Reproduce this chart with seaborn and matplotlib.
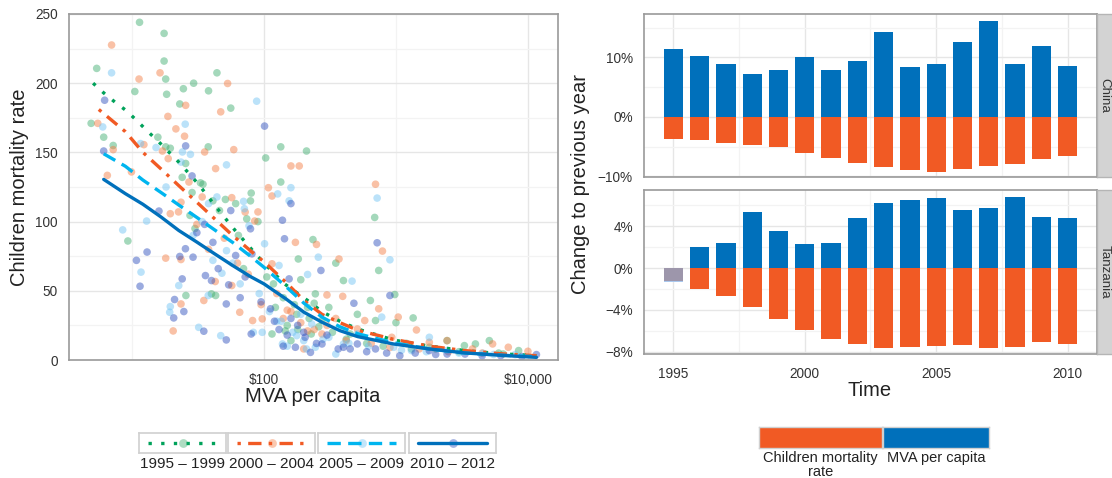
import numpy as np
import pandas as pd
import seaborn as sns
import matplotlib
matplotlib.use("Agg")
import matplotlib.pyplot as plt
from matplotlib.ticker import FixedLocator, NullFormatter

# ---- left panel: scatter of MVA per capita vs children mortality rate ----
periods = ['1995 – 1999', '2000 – 2004', '2005 – 2009', '2010 – 2012']

mva_95 = [5.4, 4.9, 6.1, 7.2, 11.4, 17.5, 17.5, 18, 18.3, 10.5, 15.7, 18, 19.5, 23, 24.5,
          29.3, 38, 44, 56, 37.8, 9.3, 25.5, 24, 28.5, 27.5, 34.5, 41, 51, 61, 80,
          79, 74, 43, 40, 25.6, 134, 210, 103, 134, 235, 182, 350, 690, 740, 640,
          400, 980, 1350, 1000, 700, 510, 310, 245, 214, 177, 145, 2440, 5100, 4000, 3300,
          8500, 1790, 1310, 122, 115, 275, 450, 6500, 228, 160,
          150, 180, 220, 260, 330, 420, 600, 800, 1200, 2000, 3000, 6000, 170, 140,
          30, 33, 46, 64, 70, 90, 105, 118, 190, 240]
rate_95 = [210.7, 171, 161, 155, 244, 236, 216, 203, 192, 194, 161, 154, 153, 185, 196,
           200, 194.5, 207.5, 182, 154, 86, 142, 132, 121, 104.5, 127, 115, 116, 113, 120.6,
           115, 102, 46.6, 47.8, 46.6, 154, 151, 146, 128.6, 87, 73, 70, 103, 64.7, 43,
           57.4, 47.3, 30.4, 27, 28.5, 33, 38, 47.8, 38, 33, 21, 14, 14, 11.6, 10.4,
           6.8, 9.2, 8, 38, 18.8, 28.5, 18.8, 4.3, 18.8, 14,
           25, 22, 30, 24, 20, 15, 12, 10, 12, 8, 6, 5, 40, 45,
           95, 128, 108, 90, 66, 100, 60, 55, 58, 41]

mva_00 = [7, 5.5, 11.3, 16.3, 18.7, 17, 18.8, 7.2, 6.5, 9.9, 12.3, 21.5, 25.5, 25, 23.5,
          22.5, 19.5, 18, 23.5, 20.5, 23.5, 35.5, 43, 47, 53, 59, 34, 27, 57, 72,
          85, 90, 108, 115, 115, 82, 97, 57, 42.7, 35, 65.5, 160, 185, 173, 250,
          370, 300, 395, 700, 790, 740, 1040, 1430, 2440, 5400, 10000, 3800, 510, 580, 214,
          275, 200, 1790, 7100, 930,
          140, 190, 240, 300, 420, 650, 900, 1500, 2500, 4500, 160, 350,
          31, 38, 50, 63, 76, 95, 125, 150]
rate_00 = [227.6, 171, 203, 207.5, 176, 151, 145.5, 152, 133.4, 135.9, 155.6, 167, 184, 161.7, 114,
           107, 105.7, 73.6, 72.6, 21, 40.5, 150.3, 138.3, 179.3, 199.8, 152, 117.8, 128.6, 117.3, 106.9,
           100.4, 107, 124.5, 118.5, 69.5, 28.5, 29.7, 53.8, 56.7, 43, 34.5, 140.2, 140.2, 85, 83.5,
           73, 47, 46, 127, 78.7, 37, 31, 21.7, 14, 11.6, 6.3, 8, 22.4, 28.5, 21,
           18.8, 8, 12.8, 9.2, 16.4,
           30, 27, 22, 25, 14, 12, 9, 8, 6, 5, 35, 30,
           98, 80, 88, 70, 62, 40, 48, 36]

mva_05 = [7, 6, 11.6, 15.2, 18.1, 25.3, 24.1, 27.7, 23.5, 52, 88, 44, 38, 70, 71,
          77, 8.5, 12.9, 11.7, 22.6, 19.5, 19.3, 37.8, 32, 47, 48, 52, 127, 160, 155,
          130, 101, 258, 214, 465, 720, 900, 780, 510, 310, 400, 97, 83, 200, 245,
          1790, 2440, 4560, 1310, 960, 8000, 177, 138, 350,
          135, 165, 190, 230, 280, 440, 620, 1100, 1700, 3000, 5500, 150, 210,
          29, 34, 41, 58, 66, 92, 110, 125]
rate_05 = [207.5, 168.4, 156.4, 153.5, 125, 170.4, 150.3, 148.6, 143, 141, 187, 117.8, 113, 114.6, 109.3,
           97, 94, 100.4, 63.5, 53.8, 38.6, 34.5, 46.6, 23.6, 17.6, 62.7, 79, 120, 124.5, 115,
           68.3, 84, 74.3, 61.8, 57, 117, 72.4, 31, 18.8, 16.4, 11.6, 20, 20, 14, 9.2,
           16.4, 6.8, 4.8, 6.8, 9.2, 3.9, 17.6, 11.6, 4.3,
           28, 20, 33, 26, 15, 12, 10, 7, 6, 5, 4, 10, 8,
           90, 100, 72, 70, 55, 48, 35, 28]

mva_10 = [6.2, 6.1, 25.5, 28.5, 16, 10.8, 13, 11.5, 21, 20.7, 24.7, 24, 23, 25.4, 29,
          35.5, 41, 36, 40, 51.8, 51.8, 54, 61, 56, 79, 81, 80, 35, 101, 138,
          160, 143, 155, 112, 270, 480, 720, 900, 225, 173, 365, 510, 1070, 1790, 3336,
          6223, 11600, 275, 400, 205, 700, 2440,
          130, 150, 180, 200, 250, 300, 450, 600, 850, 1400, 2000, 4500, 9000, 160, 140,
          31, 45, 66, 72, 95, 120]
rate_10 = [187.7, 151, 154.7, 133, 107.6, 72, 78, 53.3, 43.7, 30.4, 35, 58.6, 74.8, 80.4, 74.3,
           98, 85, 61, 57.4, 40.5, 14.5, 54.3, 75.5, 108, 94.8, 76.7, 18.8, 20.8, 169, 101,
           113, 87.6, 58.6, 37, 64.7, 41, 84.7, 46.6, 5.5, 9.2, 8, 11.6, 3.1, 6.8, 4.3,
           3.1, 3.9, 11.6, 9.2, 16.4, 8, 4.3,
           22, 18, 25, 20, 12, 18, 8, 6, 5, 5, 4, 3, 2.5, 30, 10,
           92, 66, 45, 60, 42, 28]

# fitted curves per period
curve_x_95 = [5.07, 6.1, 7.5, 9.1, 11, 13.2, 15.8, 22.6, 31.9, 43.4, 60, 84, 100, 143, 214,
              275, 376, 513, 955, 1787, 3336, 6223, 11600]
curve_y_95 = [200, 193, 186, 180, 172.5, 165, 158, 143, 127, 110.5, 94, 78, 70, 55, 43,
              35, 28, 22.4, 14.5, 10, 6.8, 4.5, 3.1]
curve_x_00 = [5.6, 8.9, 12.1, 16.6, 22.6, 31, 42.3, 57.8, 78.9, 100, 147, 201, 275, 376, 513,
              955, 1787, 3336, 6223, 11600]
curve_y_00 = [181, 165, 150, 138, 126, 114, 102, 90, 79, 71, 56, 43, 33, 27, 21.5,
              15, 10, 6.8, 4.5, 3.1]
curve_x_05 = [6.1, 8.9, 12.1, 16.6, 22.6, 31, 42.3, 57.8, 78.9, 100, 147, 201, 275, 376, 513,
              955, 1787, 3336, 6223, 11600]
curve_y_05 = [149, 140, 130, 121, 112, 103, 94, 85, 75, 67, 53, 41, 31, 24, 19,
              12.5, 8, 5, 3.5, 2.4]
curve_x_10 = [6.1, 8.9, 12.1, 16.6, 22.6, 31, 42.3, 57.8, 78.9, 100, 147, 201, 275, 376, 513,
              955, 1787, 3336, 6223, 11600]
curve_y_10 = [130.5, 120.2, 112.5, 103.3, 93.6, 85.2, 76.7, 68.3, 60.3, 55, 44.1, 34.5, 27.3, 21.2, 16.9,
              11.6, 8, 5.1, 3.4, 1.9]

# ---- right panel: change to previous year ----
years = [1995, 1996, 1997, 1998, 1999, 2000, 2001, 2002, 2003, 2004, 2005, 2006, 2007, 2008, 2009, 2010]
china_mva = [11.4, 10.2, 8.9, 7.2, 7.9, 10.1, 7.9, 9.4, 14.3, 8.4, 8.9, 12.6, 16.1, 8.9, 11.9, 8.5]
china_mort = [-3.7, -3.9, -4.4, -4.8, -5.1, -6.1, -6.9, -7.8, -8.4, -9.0, -9.2, -8.8, -8.3, -8.0, -7.1, -6.5]
tz_mva = [-1.3, 1.98, 2.37, 5.34, 3.52, 2.27, 2.37, 4.77, 6.21, 6.5, 6.69, 5.54, 5.73, 6.78, 4.86, 4.77]
tz_mort = [-1.2, -2.05, -2.72, -3.68, -4.83, -5.89, -6.75, -7.23, -7.62, -7.52, -7.42, -7.33, -7.62, -7.52, -7.04, -7.23]

line_colors = ['#00A25A', '#F15A24', '#00B5EF', '#0070BB']
point_colors = ['#3EAD6F', '#F47C42', '#6FC3F4', '#2C4DBC']
line_dashes = [(1, 2.8), (1, 2.2, 4, 2.2), (4, 2.2), '']
bar_orange = '#F15A24'
bar_blue = '#0070BB'

pts = pd.concat([
    pd.DataFrame({'mva': mva_95, 'rate': rate_95, 'period': periods[0]}),
    pd.DataFrame({'mva': mva_00, 'rate': rate_00, 'period': periods[1]}),
    pd.DataFrame({'mva': mva_05, 'rate': rate_05, 'period': periods[2]}),
    pd.DataFrame({'mva': mva_10, 'rate': rate_10, 'period': periods[3]}),
], ignore_index=True)
curves = pd.concat([
    pd.DataFrame({'mva': curve_x_95, 'rate': curve_y_95, 'period': periods[0]}),
    pd.DataFrame({'mva': curve_x_00, 'rate': curve_y_00, 'period': periods[1]}),
    pd.DataFrame({'mva': curve_x_05, 'rate': curve_y_05, 'period': periods[2]}),
    pd.DataFrame({'mva': curve_x_10, 'rate': curve_y_10, 'period': periods[3]}),
], ignore_index=True)

sns.set_style('white')
plt.rcParams['font.family'] = ['Liberation Sans', 'DejaVu Sans']

W, H = 1112, 478
fig = plt.figure(figsize=(W / 100, H / 100), dpi=100)


def px_axes(x0, y0, x1, y1):
    return fig.add_axes([x0 / W, 1 - y1 / H, (x1 - x0) / W, (y1 - y0) / H])


def style_panel(ax):
    for sp in ax.spines.values():
        sp.set_color('#9A9A9A')
        sp.set_linewidth(1.2)
    ax.tick_params(which='major', direction='out', length=5, width=1.5, color='#222222',
                   labelsize=9.8, labelcolor='#333333', pad=3)
    ax.tick_params(which='minor', length=0)
    ax.grid(which='major', color='#E6E6E6', lw=1.0)
    ax.grid(which='minor', color='#F3F3F3', lw=0.9)
    ax.set_axisbelow(True)
    ax.set_xlabel('')
    ax.set_ylabel('')


# left scatter
ax = px_axes(69, 14, 558, 360)
sns.scatterplot(data=pts, x='mva', y='rate', hue='period', palette=dict(zip(periods, point_colors)),
                alpha=0.47, s=30, linewidth=0, legend=False, ax=ax)
sns.lineplot(data=curves, x='mva', y='rate', hue='period', style='period',
             palette=dict(zip(periods, line_colors)), dashes=dict(zip(periods, line_dashes)),
             lw=2.4, legend=False, ax=ax)
ax.set_xscale('log')
ax.set_xlim(3.33, 16900)
ax.set_ylim(0, 250)
ax.xaxis.set_major_locator(FixedLocator([100, 10000]))
ax.xaxis.set_minor_locator(FixedLocator([10, 1000]))
ax.xaxis.set_minor_formatter(NullFormatter())
ax.set_xticklabels([r'\$100', r'\$10,000'])
ax.yaxis.set_major_locator(FixedLocator([0, 50, 100, 150, 200, 250]))
ax.yaxis.set_minor_locator(FixedLocator([25, 75, 125, 175, 225]))
style_panel(ax)
ax.tick_params(axis='x', pad=4.5)
fig.text(20 / W, 1 - 187 / H, 'Children mortality rate', rotation=90, ha='center', va='center',
         fontsize=14.5, color='#222222')
fig.text(313 / W, 1 - 397 / H, 'MVA per capita', ha='center', va='center', fontsize=14.5, color='#222222')

# right facets
panels = [
    ('China', china_mva, china_mort, 14, 177, (-10.11, 17.3), [-10, 0, 10], [-5, 5, 15]),
    ('Tanzania', tz_mva, tz_mort, 190, 354, (-8.22, 7.46), [-8, -4, 0, 4], [-6, -2, 2, 6]),
]
for name, mva, mort, y0, y1, ylim, yt, ymt in panels:
    bx = px_axes(644, y0, 1097, y1)
    sns.barplot(x=years, y=mva, native_scale=True, width=0.73, color=bar_blue, saturation=1,
                errorbar=None, linewidth=0, ax=bx)
    n_mva = len(bx.patches)
    for p in bx.patches:
        if p.get_height() < 0:
            p.set_facecolor('#A9C8EE')
    sns.barplot(x=years, y=mort, native_scale=True, width=0.73, color=bar_orange, saturation=1,
                errorbar=None, linewidth=0, ax=bx)
    if name == 'Tanzania':
        bx.patches[n_mva].set_facecolor('#9D96AB')
    bx.set_xlim(1993.88, 2011.12)
    bx.set_ylim(*ylim)
    bx.xaxis.set_major_locator(FixedLocator([1995, 2000, 2005, 2010]))
    bx.xaxis.set_minor_locator(FixedLocator([1997.5, 2002.5, 2007.5]))
    bx.yaxis.set_major_locator(FixedLocator(yt))
    bx.yaxis.set_minor_locator(FixedLocator(ymt))
    bx.set_yticklabels([('\u2212%d%%' % -v) if v < 0 else '%d%%' % v for v in yt])
    bx.set_xticklabels(['1995', '2000', '2005', '2010'])
    style_panel(bx)
    if name == 'China':
        bx.tick_params(axis='x', which='major', length=0, labelbottom=False)
    else:
        bx.tick_params(axis='x', pad=4)
    sx = px_axes(1097, y0, 1126, y1)
    sx.set_facecolor('#D3D3D3')
    sx.set_xticks([])
    sx.set_yticks([])
    for sp in sx.spines.values():
        sp.set_color('#B5B5B5')
        sp.set_linewidth(1.0)
    fig.text(1104.5 / W, 1 - (y0 + y1) / 2 / H, name, rotation=270, ha='center', va='center',
             fontsize=9.6, color='#333333')

fig.text(580 / W, 1 - 184 / H, 'Change to previous year', rotation=90, ha='center', va='center',
         fontsize=14.5, color='#222222')
fig.text(870 / W, 1 - 391 / H, 'Time', ha='center', va='center', fontsize=14.5, color='#222222')

# legend for the left panel
box_x = [139, 228, 318, 409]
for i, x0 in enumerate(box_x):
    lx = px_axes(x0, 433, x0 + 87, 453)
    lx.set_xlim(0, 1)
    lx.set_ylim(0, 1)
    lx.plot([0.1, 0.9], [0.5, 0.5], color=line_colors[i], lw=2.4,
            dashes=line_dashes[i] if line_dashes[i] else (None, None))
    lx.scatter([0.5], [0.5], s=40, color=point_colors[i], alpha=0.42, linewidth=0)
    lx.set_xticks([])
    lx.set_yticks([])
    for sp in lx.spines.values():
        sp.set_color('#D0D0D0')
        sp.set_linewidth(1.2)
    fig.text((x0 + 43.5) / W, 1 - 464 / H, periods[i], ha='center', va='center', fontsize=11,
             color='#222222')

# legend for the right panel
for (x0, x1), col, lab in [((759, 882), bar_orange, 'Children mortality\nrate'),
                            ((883, 989), bar_blue, 'MVA per capita')]:
    lx = px_axes(x0, 427, x1, 448)
    lx.set_facecolor(col)
    lx.set_xticks([])
    lx.set_yticks([])
    for sp in lx.spines.values():
        sp.set_color('#D0D0D0')
        sp.set_linewidth(1.0)
    fig.text((x0 + x1) / 2 / W, 1 - 451 / H, lab, ha='center', va='top', fontsize=10.5,
             color='#222222', linespacing=1.0)

fig.savefig('out.png', dpi=100)
